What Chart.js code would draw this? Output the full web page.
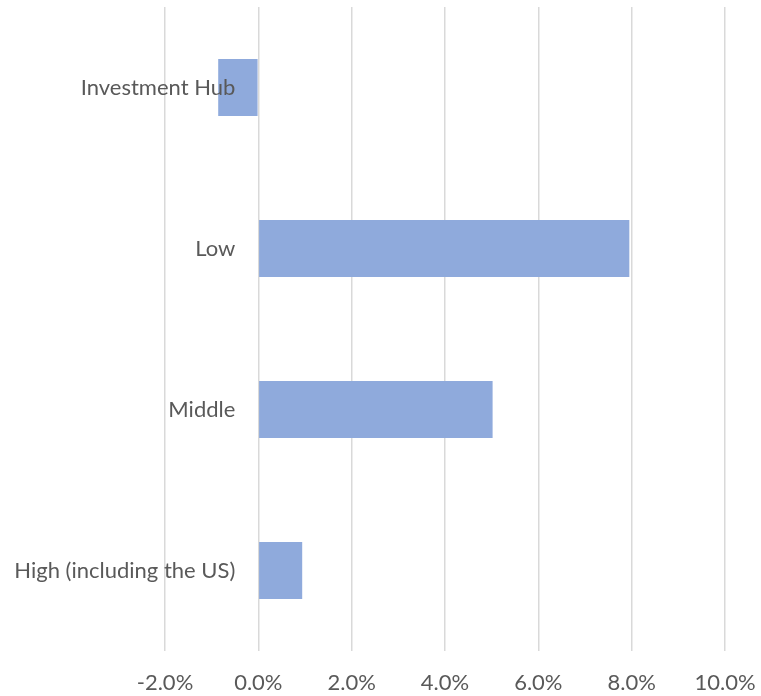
<!DOCTYPE html>
<html>
<head>
<meta charset="utf-8">
<script src="https://cdn.jsdelivr.net/npm/chart.js@4/dist/chart.umd.min.js"></script>
<style>
  html, body { margin: 0; padding: 0; background: #ffffff; }
  #wrap { width: 761px; height: 696px; position: relative; }
</style>
</head>
<body>
<div id="wrap"><canvas id="chart"></canvas></div>
<script>
// Income groups, top to bottom
const categories = ['Investment Hub', 'Low', 'Middle', 'High (including the US)'];
// Change, in percent
const values = [-0.86, 7.95, 5.02, 0.94];
// Value axis range and spacing (percent)
const axisMin = -2;
const axisMax = 10;
const axisStep = 2;

const FONT = 'Lato, "Open Sans", "Liberation Sans", sans-serif';
const TEXT = '#595959';
const GRID = '#d9d9d9';

// Category labels sit just left of the zero line, over the grid
const zeroLineLabels = {
  id: 'zeroLineLabels',
  afterDatasetsDraw(chart) {
    const { ctx, scales: { x, y } } = chart;
    const x0 = x.getPixelForValue(0) - 23;
    ctx.save();
    ctx.font = '22px ' + FONT;
    ctx.fillStyle = TEXT;
    ctx.textAlign = 'right';
    ctx.textBaseline = 'middle';
    chart.data.labels.forEach((label, i) => {
      ctx.fillText(label, x0, y.getPixelForTick(i));
    });
    ctx.restore();
  }
};

new Chart(document.getElementById('chart'), {
  type: 'bar',
  data: {
    labels: categories,
    datasets: [{
      data: values,
      backgroundColor: '#8faadc',
      borderWidth: 0,
      barPercentage: 0.354,
      categoryPercentage: 1.0
    }]
  },
  options: {
    indexAxis: 'y',
    responsive: true,
    maintainAspectRatio: false,
    animation: false,
    layout: { padding: { left: 165, right: 36, top: 7, bottom: 0 } },
    plugins: { legend: { display: false }, tooltip: { enabled: false } },
    scales: {
      x: {
        min: axisMin,
        max: axisMax,
        afterFit(scale) {
          scale.height = 45;
          scale.paddingLeft = 0;
          scale.paddingRight = 0;
        },
        ticks: {
          stepSize: axisStep,
          color: TEXT,
          font: { family: FONT, size: 22 },
          padding: 19,
          maxRotation: 0,
          callback: (v) => v.toFixed(1) + '%'
        },
        grid: { color: GRID, lineWidth: 1.5, drawTicks: false },
        border: { display: false }
      },
      y: {
        ticks: { display: false },
        grid: { display: false, drawTicks: false },
        border: { display: false }
      }
    }
  },
  plugins: [zeroLineLabels]
});
</script>
</body>
</html>
